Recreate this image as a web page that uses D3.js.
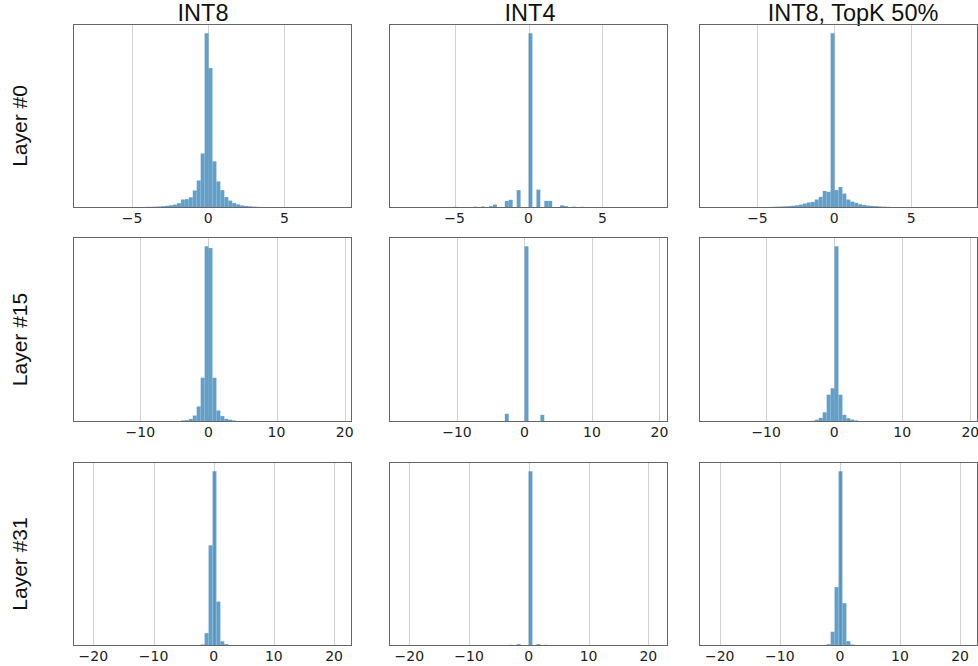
<!DOCTYPE html>
<html>
<head>
<meta charset="utf-8">
<script src="https://cdn.jsdelivr.net/npm/d3@7"></script>
<style>
body { margin: 0; background: #fff; }
</style>
</head>
<body>
<svg id="fig" width="978" height="666"></svg>
<script>
var colTitles = ["INT8", "INT4", "INT8, TopK 50%"];
var rowTitles = ["Layer #0", "Layer #15", "Layer #31"];
var rowTicks = [[-5, 0, 5], [-10, 0, 10, 20], [-20, -10, 0, 10, 20]];

// data range [min, max] of each histogram, 64 bins each
var nBins = 64;
var ranges = [
  [[-8.02, 8.57], [-8.54, 8.54], [-7.95, 8.5]],
  [[-17.95, 19.15], [-18.13, 19.32], [-17.94, 19.2]],
  [[-21.2, 20.8], [-21.2, 21.1], [-21.26, 20.8]]
];

// bin counts (relative, peak = 1000)
var l0_int8 = [1,1,1,1,1,1,1,1, 2,2,2,2,3,3,3,4, 4,5,6,8,10,13,17,25, 46,48,59,98,155,310,1000,800,
               265,150,100,60,40,26,18,12, 9,7,5,4,3,3,2,2, 2,1,1,1,1,1,0,0, 0,0,0,0,0,0,0,0];
var l0_int4 = [0,0,0,0,0,0,0,0, 0,2,0,0,0,4,0,0, 3,0,5,0,6,0,8,17, 0,0,38,44,0,100,0,0,
               1000,0,103,0,38,38,0,0, 13,8,0,5,0,4,0,2, 0,3,0,0,2,0,0,0, 0,0,0,0,0,0,0,0];
var l0_topk = [0,0,0,0,0,1,1,1, 1,1,2,2,2,3,3,4, 5,6,7,8,10,13,17,23, 29,32,46,61,95,90,1000,100,
               118,80,46,34,27,19,15,11, 9,8,6,5,4,3,2,2, 1,1,1,0,0,0,0,0, 0,0,0,0,0,0,0,0];
var l15_int8 = [2,0,0,0,0,0,0,0, 0,0,0,0,0,0,0,0, 0,0,0,0,0,0,1,2, 6,8,15,34,86,250,1000,990,
                250,63,31,15,10,6,3,2, 1,0,0,0,0,0,0,0, 0,0,0,0,0,0,0,0, 0,0,0,0,0,0,0,0];
var l15_int4 = [0,0,0,0,0,0,0,0, 0,0,0,0,0,0,0,0, 0,0,0,0,0,0,0,0, 0,0,44,0,0,0,0,1000,
                0,0,0,38,0,0,0,0, 0,0,0,0,0,0,0,0, 0,0,0,0,0,0,0,0, 0,0,0,0,0,0,0,0];
var l15_topk = [0,0,0,0,0,0,0,0, 0,0,0,0,0,0,0,0, 0,0,0,0,0,0,0,1, 2,4,10,21,53,153,190,1000,
                153,38,19,11,6,2,1,0, 0,0,0,0,0,0,0,0, 0,0,0,0,0,0,0,0, 0,0,0,0,0,0,0,0];
var l31_int8 = [0,0,0,0,0,0,0,0, 0,0,0,0,0,0,0,0, 0,0,0,0,0,0,0,0, 0,0,0,0,2,6,71,575,
                1000,252,24,8,2,0,0,0, 0,0,0,0,0,0,0,0, 0,0,0,0,0,0,0,0, 0,0,0,0,0,0,0,0];
var l31_int4 = [0,0,0,0,0,0,0,0, 0,0,0,0,0,0,0,0, 0,0,0,0,0,0,0,0, 0,0,0,4,0,8,0,0,
                1000,0,8,0,4,0,0,0, 0,0,0,0,0,0,0,0, 0,0,0,0,0,0,0,0, 0,0,0,0,0,0,0,0];
var l31_topk = [0,0,0,0,0,0,0,0, 0,0,0,0,0,0,0,0, 0,0,0,0,0,0,0,0, 0,0,0,0,2,8,79,335,
                1000,243,25,6,2,0,0,0, 0,0,0,0,0,0,0,0, 0,0,0,0,0,0,0,0, 0,0,0,0,0,0,0,0];

var counts = [
  [l0_int8, l0_int4, l0_topk],
  [l15_int8, l15_int4, l15_topk],
  [l31_int8, l31_int4, l31_topk]
];

// layout
var colX = [[73.5, 351.5], [389.5, 667.5], [699.5, 977.5]];
var rowY = [[24.5, 207.5], [237.5, 421.5], [462.5, 645.5]];
var titleX = [203, 530, 853];

var svg = d3.select("#fig");

colTitles.forEach(function(t, j) {
  svg.append("text")
     .attr("x", titleX[j])
     .attr("y", 20.5)
     .attr("text-anchor", "middle")
     .attr("font-family", "Liberation Sans, Arial, sans-serif")
     .attr("font-size", 23.5)
     .attr("fill", "#111")
     .text(t);
});

rowTitles.forEach(function(t, i) {
  var cy = (rowY[i][0] + rowY[i][1]) / 2 + 10;
  svg.append("text")
     .attr("transform", "translate(27," + cy + ") rotate(-90)")
     .attr("text-anchor", "middle")
     .attr("font-family", "Liberation Sans, Arial, sans-serif")
     .attr("font-size", 21)
     .attr("fill", "#111")
     .text(t);
});

for (var i = 0; i < 3; i++) {
  for (var j = 0; j < 3; j++) {
    var lo = ranges[i][j][0], hi = ranges[i][j][1];
    var span = hi - lo, bw = span / nBins;
    var data = counts[i][j];

    var x = d3.scaleLinear()
        .domain([lo - 0.05 * span, hi + 0.05 * span])
        .range([colX[j][0], colX[j][1]]);
    var y = d3.scaleLinear()
        .domain([0, d3.max(data) * 1.05])
        .range([rowY[i][1], rowY[i][0]]);

    var g = svg.append("g");

    // vertical grid
    g.selectAll("line.grid")
      .data(rowTicks[i])
      .enter().append("line")
        .attr("class", "grid")
        .attr("x1", function(d) { return Math.round(x(d)) + 0.5; })
        .attr("x2", function(d) { return Math.round(x(d)) + 0.5; })
        .attr("y1", rowY[i][0])
        .attr("y2", rowY[i][1])
        .attr("stroke", "#d2d2d2")
        .attr("stroke-width", 1);

    var bins = data.map(function(c, k) { return {x0: lo + k * bw, x1: lo + (k + 1) * bw, c: c}; })
                   .filter(function(d) { return d.c > 0; });

    g.selectAll("rect.bar")
      .data(bins)
      .enter().append("rect")
        .attr("class", "bar")
        .attr("x", function(d) { return x(d.x0); })
        .attr("width", function(d) { return x(d.x1) - x(d.x0); })
        .attr("y", function(d) { return y(d.c); })
        .attr("height", function(d) { return y(0) - y(d.c); })
        .attr("fill", "#1f77b4")
        .attr("fill-opacity", 0.7)
        .attr("stroke", "#ffffff")
        .attr("stroke-opacity", 0.15)
        .attr("stroke-width", 0.4);

    // frame
    g.append("rect")
      .attr("x", colX[j][0])
      .attr("y", rowY[i][0])
      .attr("width", colX[j][1] - colX[j][0])
      .attr("height", rowY[i][1] - rowY[i][0])
      .attr("fill", "none")
      .attr("stroke", "#666")
      .attr("stroke-width", 1);

    g.selectAll("text.tick")
      .data(rowTicks[i])
      .enter().append("text")
        .attr("class", "tick")
        .attr("x", function(d) { return x(d); })
        .attr("y", rowY[i][1] + 15.5)
        .attr("text-anchor", "middle")
        .attr("font-family", "DejaVu Sans, sans-serif")
        .attr("font-size", 14)
        .attr("fill", "#222")
        .text(function(d) { return d < 0 ? "\u2212" + (-d) : String(d); });
  }
}
</script>
</body>
</html>
